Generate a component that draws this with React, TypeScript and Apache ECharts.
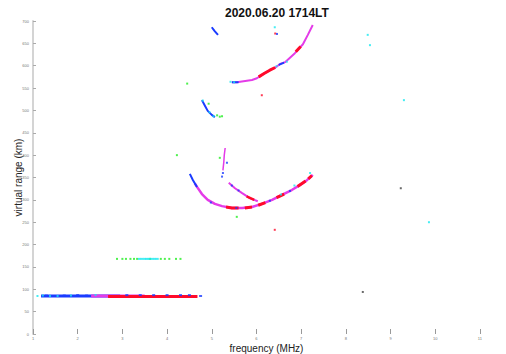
import React, { useEffect, useRef } from "react";
import * as echarts from "echarts";

type P = [number, number];

const title = "2020.06.20 1714LT";
const xName = "frequency (MHz)";
const yName = "virtual range (km)";
const freqMin = 1;
const freqMax = 11.45;
const freqStep = 1;
const rangeMin = 0;
const rangeMax = 700;
const rangeStep = 50;

// E trace (about 85 km)
const eBlue: P[] = [[1.18, 85], [2.95, 85]];
const eMagenta: P[] = [[2.3, 85], [3.5, 85]];
const eRed: P[] = [[2.68, 84], [4.68, 84]];
const eBlueDots: P[] = [[1.3, 86], [1.5, 85], [1.7, 86], [2.0, 87], [2.2, 86], [3.1, 87], [3.4, 87], [3.7, 87], [4.0, 87], [4.3, 87], [4.5, 87], [4.75, 85]];
const eCyanDots: P[] = [[1.1, 85], [1.22, 86], [1.38, 85], [1.55, 85], [1.85, 86], [2.4, 87]];

// second-hop E trace (about 168 km)
const e2Green: P[] = [[2.88, 168], [3.0, 168], [3.08, 168], [3.18, 168], [3.26, 168], [3.33, 168], [3.62, 168], [3.86, 168], [3.95, 168], [4.05, 168], [4.2, 168], [4.3, 168]];
const e2Cyan: P[] = [[3.38, 168], [3.44, 168], [3.5, 168], [3.55, 168], [3.6, 168], [3.66, 168], [3.72, 168], [3.78, 168]];

// F trace, o branch
const fMain: P[] = [[4.62, 337], [4.67, 329], [4.78, 313], [4.91, 300], [5.07, 291], [5.23, 286], [5.45, 282], [5.68, 282], [5.9, 284], [6.12, 291], [6.35, 300], [6.57, 311], [6.79, 322], [6.97, 333], [7.13, 344], [7.26, 356]];
const fBlue: P[] = [[4.51, 358], [4.58, 344], [4.67, 329]];
const fRed1: P[] = [[5.32, 284], [5.45, 282], [5.6, 282]];
const fRed2: P[] = [[5.74, 282], [5.9, 284]];
const fRed3: P[] = [[6.04, 288], [6.2, 294]];
const fRed4: P[] = [[6.45, 305], [6.62, 313]];
const fRed5: P[] = [[6.92, 330], [7.1, 342]];
const fRed6: P[] = [[7.16, 347], [7.24, 354]];
const fBlueDots: P[] = [[4.98, 294], [5.55, 282], [6.3, 298], [6.75, 320]];
const fCyanDots: P[] = [[6.55, 312], [6.85, 332], [7.2, 360]];

// F trace, x branch
const xBranch: P[] = [[5.38, 338], [5.52, 326], [5.68, 315], [5.85, 304], [6.03, 297]];
const xRed: P[] = [[5.78, 308], [5.95, 300]];
const xBlueDots: P[] = [[5.45, 332], [5.6, 321]];

// spread near 5.3 MHz
const spreadMag: P[] = [[5.3, 416], [5.28, 400], [5.27, 385], [5.25, 366]];
const spreadBlueDots: P[] = [[5.25, 360], [5.23, 352]];

// second-hop F trace
const arc2Mag: P[] = [[5.45, 563], [5.56, 563], [5.9, 568], [6.01, 572], [6.15, 581], [6.3, 590], [6.41, 595], [6.53, 604], [6.64, 608], [6.86, 628], [7.04, 648], [7.15, 669], [7.26, 691]];
const arc2Red1: P[] = [[6.05, 575], [6.18, 583], [6.3, 590], [6.42, 596]];
const arc2Red2: P[] = [[6.88, 631], [6.99, 643]];
const arc2Blue: P[] = [[5.45, 563], [5.6, 563]];
const arc2Blue2: P[] = [[6.5, 602], [6.62, 607]];
const arc2CyanDots: P[] = [[5.5, 563], [5.42, 564], [6.45, 599], [6.68, 609]];

// descending fragments of second hop
const leftTop: P[] = [[5.0, 686], [5.07, 677], [5.14, 669]];
const leftMid: P[] = [[4.78, 523], [4.85, 510], [4.91, 499], [5.0, 490], [5.07, 485]];
const leftMidGreen: P[] = [[5.12, 489], [5.18, 486], [5.23, 487], [4.93, 515]];
const leftMidCyan: P[] = [[4.8, 522], [4.95, 496], [5.04, 487]];

// scattered echoes
const noiseCyan: P[] = [[8.49, 669], [8.54, 646], [9.86, 250], [6.41, 686], [9.3, 523]];
const noiseGreen: P[] = [[4.22, 400], [5.18, 394], [5.56, 262], [4.45, 560]];
const noiseRed: P[] = [[6.41, 233], [6.12, 534], [6.42, 672]];
const noiseBlue: P[] = [[6.46, 671], [5.34, 383]];
const noiseDark: P[] = [[9.23, 326], [8.38, 94]];

function line(data: P[], color: string, width: number, z = 2) {
  return {
    type: "line",
    data,
    showSymbol: false,
    symbol: "none",
    silent: true,
    z,
    lineStyle: { color, width, cap: "butt" },
  };
}

function dots(data: P[], color: string, size: number | number[], z = 4) {
  return {
    type: "scatter",
    data,
    symbol: "rect",
    symbolSize: size,
    silent: true,
    z,
    itemStyle: { color },
  };
}

const BLUE = "#1a3cff";
const RED = "#ff0a2a";
const MAG = "#e43be8";
const CYAN = "#18e8f0";
const GREEN = "#22ee22";

export default function App() {
  const ref = useRef<HTMLDivElement>(null);
  useEffect(() => {
    document.body.style.margin = "0";
    const chart = echarts.init(ref.current!, null, { renderer: "svg" });
    chart.setOption({
      animation: false,
      title: {
        text: title,
        left: 220,
        top: 2,
        textStyle: { fontFamily: "Liberation Sans", fontSize: 12, fontWeight: "bold", color: "#111" },
      },
      grid: { left: 33, right: 6, top: 21, bottom: 20, outerBoundsMode: "none", containLabel: false },
      xAxis: {
        type: "value",
        min: freqMin,
        max: freqMax,
        interval: freqStep,
        name: xName,
        nameLocation: "middle",
        nameGap: 9,
        nameMoveOverlap: false,
        nameTextStyle: { fontFamily: "Liberation Sans", fontSize: 10, color: "#222", verticalAlign: "top" },
        axisLine: { show: false },
        axisTick: { show: true, inside: true, length: 5, lineStyle: { color: "#999" } },
        axisLabel: { fontSize: 4, color: "#777", margin: 2, showMaxLabel: false, fontFamily: "Liberation Sans" },
        splitLine: { show: false },
      },
      yAxis: {
        type: "value",
        min: rangeMin,
        max: rangeMax,
        interval: rangeStep,
        name: yName,
        nameLocation: "middle",
        nameGap: 10,
        nameMoveOverlap: false,
        nameTextStyle: { fontFamily: "Liberation Sans", fontSize: 10, color: "#222" },
        axisLine: { show: true, lineStyle: { color: "#d4d4d4", width: 2 } },
        axisTick: { show: true, inside: true, length: 3, lineStyle: { color: "#aaa" } },
        axisLabel: { fontSize: 4, color: "#777", margin: 4, fontFamily: "Liberation Sans" },
        splitLine: { show: false },
      },
      series: [
        line(eBlue, BLUE, 3),
        line(eMagenta, MAG, 3),
        line(eRed, RED, 3),
        dots(eBlueDots, BLUE, [3, 2]),
        dots(eCyanDots, CYAN, [2, 2]),
        dots(e2Green, GREEN, [2, 2]),
        dots(e2Cyan, CYAN, [3, 2]),
        line(fMain, MAG, 2.5),
        line(fBlue, BLUE, 2),
        line(fRed1, RED, 3, 3),
        line(fRed2, RED, 3, 3),
        line(fRed3, RED, 3, 3),
        line(fRed4, RED, 3, 3),
        line(fRed5, RED, 3, 3),
        line(fRed6, RED, 3, 3),
        dots(fBlueDots, BLUE, [2, 2]),
        dots(fCyanDots, CYAN, [2, 2]),
        line(xBranch, MAG, 2),
        line(xRed, RED, 2.5, 3),
        dots(xBlueDots, BLUE, [2, 2]),
        line(spreadMag, MAG, 1.5),
        dots(spreadBlueDots, BLUE, [2, 2]),
        line(arc2Mag, MAG, 2),
        line(arc2Red1, RED, 3, 3),
        line(arc2Red2, RED, 3, 3),
        line(arc2Blue, BLUE, 2, 3),
        line(arc2Blue2, BLUE, 2, 3),
        dots(arc2CyanDots, CYAN, [2, 2]),
        line(leftTop, BLUE, 2),
        line(leftMid, BLUE, 2),
        dots(leftMidGreen, GREEN, [2, 2]),
        dots(leftMidCyan, CYAN, [2, 2]),
        dots(noiseCyan, CYAN, [2, 2]),
        dots(noiseGreen, GREEN, [2, 2]),
        dots(noiseRed, RED, [2, 2]),
        dots(noiseBlue, BLUE, [2, 2]),
        dots(noiseDark, "#444", [2, 2]),
      ],
    });
    return () => chart.dispose();
  }, []);
  return <div ref={ref} style={{ width: 506, height: 354 }} />;
}
